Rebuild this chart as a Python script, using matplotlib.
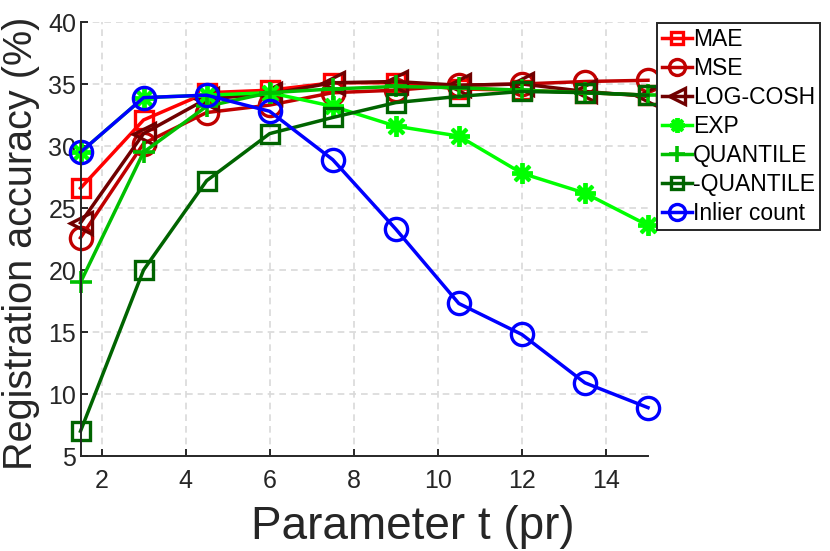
import matplotlib
matplotlib.use("Agg")
import matplotlib.pyplot as plt

plt.rcParams['font.family'] = ['Liberation Sans', 'DejaVu Sans']

t_values = [1.5, 3, 4.5, 6, 7.5, 9, 10.5, 12, 13.5, 15]
mae = [26.6, 32.1, 34.3, 34.5, 35.1, 35.1, 34.6, 34.5, 34.3, 34.1]
mse = [22.6, 30.2, 32.7, 33.3, 34.3, 34.5, 34.9, 35.0, 35.2, 35.3]
logcosh = [23.8, 31.0, 33.8, 34.2, 35.1, 35.2, 34.9, 35.0, 34.4, 34.0]
exp_ = [29.5, 33.9, 34.1, 34.3, 33.2, 31.6, 30.8, 27.8, 26.2, 23.6]
quantile = [19.0, 29.5, 33.2, 34.3, 34.6, 34.8, 34.7, 34.5, 34.3, 34.1]
neg_quantile = [7.0, 20.0, 27.2, 31.0, 32.3, 33.5, 34.0, 34.4, 34.3, 34.1]
inlier = [29.5, 33.9, 34.1, 32.8, 28.9, 23.3, 17.3, 14.8, 10.9, 8.9]

labels = ['MAE', 'MSE', 'LOG-COSH', 'EXP', 'QUANTILE', '-QUANTILE', 'Inlier count']
series = [mae, mse, logcosh, exp_, quantile, neg_quantile, inlier]
colors = ['#ff0000', '#c00000', '#700000', '#00ff00', '#00c000', '#006400', '#0000ff']
markers = ['s', 'o', '<', (8, 2, 0), '+', 's', 'o']
msizes = [12.5, 16, 16, 15, 16.5, 12.5, 16]
mews = [2.4, 2.4, 2.4, 2.8, 2.6, 2.4, 2.4]

fig = plt.figure(figsize=(8.3, 5.51), dpi=100)
ax = fig.add_axes([80.5 / 830, 1 - 456 / 551, 567.5 / 830, 434 / 551])

for y, lab, c, m, ms, mew in zip(series, labels, colors, markers, msizes, mews):
    ax.plot(t_values, y, color=c, marker=m, markersize=ms, markerfacecolor='none',
            markeredgecolor=c, markeredgewidth=mew, linewidth=2.5, label=lab,
            clip_on=False)

ax.set_xlim(1.5, 15)
ax.set_ylim(5, 40)
ax.set_xticks([2, 4, 6, 8, 10, 12, 14])
ax.set_yticks([5, 10, 15, 20, 25, 30, 35, 40])
ax.grid(True, linestyle=(0, (4, 3)), color='#d9d9d9', linewidth=1.2)
ax.set_axisbelow(True)
for s in ['top', 'right']:
    ax.spines[s].set_visible(False)
for s in ['left', 'bottom']:
    ax.spines[s].set_color('#262626')
    ax.spines[s].set_linewidth(1.4)
ax.tick_params(direction='in', length=5, width=1.4, colors='#262626', labelsize=18)
ax.tick_params(axis='x', pad=9)
ax.tick_params(axis='y', pad=3)

ax.set_xlabel('Parameter t (pr)', fontsize=33, color='#262626', va='baseline')
ax.xaxis.set_label_coords((413 - 80.5) / 567.5, (456 - 539) / 434)
ax.set_ylabel('Registration accuracy (%)', fontsize=28.5, color='#262626', va='baseline')
ax.yaxis.set_label_coords((32 - 80.5) / 567.5, 0.49)

leg = ax.legend(loc='upper left', bbox_to_anchor=(657 / 830, 1 - 23 / 551),
                bbox_transform=fig.transFigure, borderaxespad=0, fontsize=16.5,
                handlelength=1.3, handletextpad=0.05, labelspacing=0.26,
                borderpad=0.22, frameon=True, fancybox=False, markerscale=0.72)
leg.get_frame().set_edgecolor('#262626')
leg.get_frame().set_linewidth(1.4)
leg.get_frame().set_alpha(1)

fig.savefig('out.png', dpi=100)
